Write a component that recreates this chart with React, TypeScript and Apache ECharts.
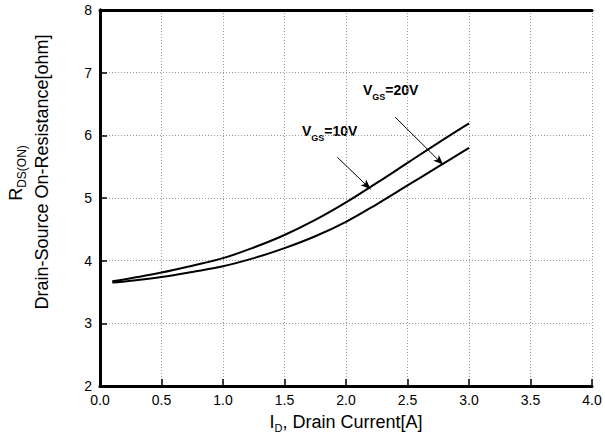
import React, { useEffect, useRef } from "react";
import * as echarts from "echarts";

const currentA = [0.1, 0.25, 0.5, 0.75, 1.0, 1.25, 1.5, 1.75, 2.0, 2.25, 2.5, 2.75, 3.0];
const rdsVgs10 = [3.67, 3.72, 3.81, 3.92, 4.04, 4.21, 4.41, 4.65, 4.93, 5.24, 5.56, 5.88, 6.19];
const rdsVgs20 = [3.65, 3.68, 3.74, 3.82, 3.91, 4.04, 4.2, 4.39, 4.62, 4.9, 5.2, 5.5, 5.8];
const arrow20 = [[2.4, 6.29], [2.79, 5.53]];
const arrow10 = [[1.93, 5.65], [2.2, 5.14]];

const FONT = "'Liberation Sans', Arial, sans-serif";

export default function App() {
  const ref = useRef<HTMLDivElement>(null);
  useEffect(() => {
    const chart = echarts.init(ref.current!, undefined, { renderer: "svg" });
    const axisLine = { show: true, lineStyle: { color: "#000", width: 3 } };
    const tick = { show: true, inside: true, length: 7, lineStyle: { color: "#000", width: 1.5 } };
    const split = { show: true, lineStyle: { color: "#999", width: 1, type: [1, 2] as any } };
    const mk = (pts: number[][]) => [[{ coord: pts[0] }, { coord: pts[1] }]];
    const annRich = {
      m: { fontSize: 14, fontWeight: "bold", fontFamily: FONT, fill: "#000" },
      s: { fontSize: 9, fontWeight: "bold", fontFamily: FONT, fill: "#000", padding: [14, 0, 0, 0] },
    };
    chart.setOption({
      animation: false,
      backgroundColor: "#fff",
      grid: { left: 100, right: 13, top: 10, bottom: 51 },
      xAxis: [
        {
          type: "value", min: 0, max: 4, interval: 0.5, position: "bottom",
          axisLine, axisTick: tick, splitLine: split,
          axisLabel: { color: "#000", fontSize: 14, fontFamily: FONT, margin: 7, formatter: (v: number) => v.toFixed(1) },
          name: "{m|I}{s|D}{m|, Drain Current[A]}",
          nameLocation: "middle", nameGap: 24,
          nameTextStyle: {
            rich: {
              m: { fontSize: 18, fontFamily: FONT, color: "#000" },
              s: { fontSize: 11, fontFamily: FONT, color: "#000", padding: [12, 0, 0, 0] },
            },
          },
        },
        {
          type: "value", min: 0, max: 4, interval: 0.5, position: "top",
          axisLine, axisTick: { show: false }, splitLine: { show: false }, axisLabel: { show: false },
        },
      ],
      yAxis: [
        {
          type: "value", min: 2, max: 8, interval: 1, position: "left",
          axisLine, axisTick: tick, splitLine: split,
          axisLabel: { color: "#000", fontSize: 14, fontFamily: FONT, margin: 8 },
        },
        {
          type: "value", min: 2, max: 8, interval: 1, position: "right",
          axisLine, axisTick: { show: false }, splitLine: { show: false }, axisLabel: { show: false },
        },
      ],
      series: [
        {
          type: "line", name: "VGS=10V", smooth: 0.4, showSymbol: false, symbol: "none",
          data: currentA.map((x, i) => [x, rdsVgs10[i]]),
          lineStyle: { color: "#000", width: 2 },
          markLine: {
            silent: true, symbol: ["none", "arrow"], symbolSize: [6, 10],
            lineStyle: { color: "#000", width: 1, type: "solid" }, label: { show: false },
            data: mk(arrow10) as any,
          },
        },
        {
          type: "line", name: "VGS=20V", smooth: 0.4, showSymbol: false, symbol: "none",
          data: currentA.map((x, i) => [x, rdsVgs20[i]]),
          lineStyle: { color: "#000", width: 2 },
          markLine: {
            silent: true, symbol: ["none", "arrow"], symbolSize: [6, 10],
            lineStyle: { color: "#000", width: 1, type: "solid" }, label: { show: false },
            data: mk(arrow20) as any,
          },
        },
      ],
      graphic: [
        {
          type: "text", x: 42, y: 172, rotation: Math.PI / 2,
          style: { text: "Drain-Source On-Resistance[ohm]", fontSize: 18, fontFamily: FONT, fill: "#000", align: "center", verticalAlign: "middle" },
        },
        {
          type: "text", x: 16, y: 173, rotation: Math.PI / 2,
          style: {
            text: "{m|R}{s|DS(ON)}", align: "center", verticalAlign: "middle",
            rich: {
              m: { fontSize: 18, fontFamily: FONT, fill: "#000" },
              s: { fontSize: 12, fontFamily: FONT, fill: "#000", padding: [12, 0, 0, 0] },
            },
          } as any,
        },
        {
          type: "text", x: 363, y: 90,
          style: { text: "{m|V}{s|GS}{m|=20V}", align: "left", verticalAlign: "middle", rich: annRich } as any,
        },
        {
          type: "text", x: 302, y: 131,
          style: { text: "{m|V}{s|GS}{m|=10V}", align: "left", verticalAlign: "middle", rich: annRich } as any,
        },
      ],
    });
    return () => chart.dispose();
  }, []);
  return <div ref={ref} style={{ position: "fixed", left: 0, top: 0, width: 605, height: 438 }} />;
}
